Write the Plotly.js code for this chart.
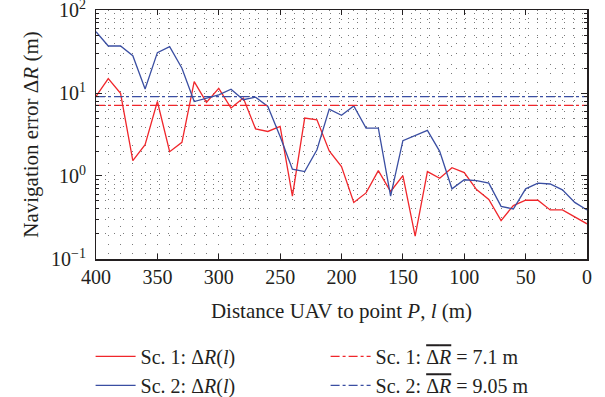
<!DOCTYPE html>
<html>
<head>
<meta charset="utf-8">
<script src="https://cdn.plot.ly/plotly-3.0.1.min.js"></script>
<style>html,body{margin:0;padding:0;background:#fff;}#chart{width:605px;height:397px;}</style>
</head>
<body>
<div id="chart"></div>
<script>
// Distance UAV to point P, l (m)
const distance = [400, 390, 380, 370, 360, 350, 340, 330, 320, 310, 300, 290, 280, 270, 260, 250, 240, 230, 220, 210, 200,
                  190, 180, 170, 160, 150, 140, 130, 120, 110, 100, 90, 80, 70, 60, 50, 40, 30, 20, 10, 0];
// Scenario 1 navigation error (m)
const sc1Error = [9.1, 14.9, 9.9, 1.53, 2.38, 7.9, 1.96, 2.54, 13.7, 7.7, 11.4, 6.6, 8.7, 3.7, 3.44, 3.95, 0.57, 4.99, 4.76, 2.0, 1.3,
                  0.48, 0.625, 1.16, 0.65, 1.01, 0.188, 1.13, 0.94, 1.26, 1.1, 0.685, 0.52, 0.29, 0.44, 0.51, 0.51, 0.39, 0.39, 0.32, 0.265];
// Scenario 2 navigation error (m)
const sc2Error = [54.8, 36.9, 36.9, 28.2, 11.2, 30.7, 36.2, 19.9, 7.9, 8.7, 9.5, 11.1, 8.3, 8.9, 6.9, 3.0, 1.21, 1.13, 2.07, 6.4, 5.4,
                  7.0, 3.78, 3.78, 0.57, 2.66, 3.05, 3.54, 1.98, 0.70, 0.9, 0.88, 0.82, 0.43, 0.40, 0.70, 0.82, 0.80, 0.68, 0.48, 0.39];
// Mean errors (m)
const sc1Mean = 7.1;
const sc2Mean = 9.05;
const meanSpan = [400, 0];
const xTicks = [400, 350, 300, 250, 200, 150, 100, 50, 0];
const xMinorTicks = [390, 380, 370, 360, 340, 330, 320, 310, 290, 280, 270, 260, 240, 230, 220, 210, 190, 180, 170, 160,
                     140, 130, 120, 110, 90, 80, 70, 60, 40, 30, 20, 10];
const yTicks = [0.1, 1, 10, 100];
const yTickText = ['10<sup>−1</sup>', '10<sup>0</sup>', '10<sup>1</sup>', '10<sup>2</sup>'];
const yMinorTicks = [0.2, 0.3, 0.4, 0.5, 0.6, 0.7, 0.8, 0.9, 2, 3, 4, 5, 6, 7, 8, 9, 20, 30, 40, 50, 60, 70, 80, 90];

const RED = '#f0262b';
const BLUE = '#3a4ea2';
const INK = '#231f20';
const GRID = '#7a7a7a';
const DASH = '1px,8px';
const FONT = 'Liberation Serif, Times New Roman, serif';

const traces = [
  {x: distance, y: sc1Error, mode: 'lines', line: {color: RED, width: 1.3},
   name: 'Sc. 1: Δ<i>R</i>(<i>l</i>)'},
  {x: meanSpan, y: [sc1Mean, sc1Mean], xaxis: 'x2', yaxis: 'y2', mode: 'lines',
   line: {color: RED, width: 1.3, dash: 'dashdot'},
   name: 'Sc. 1: <span style="text-decoration:overline">Δ<i>R</i></span> = ' + sc1Mean + ' m'},
  {x: distance, y: sc2Error, mode: 'lines', line: {color: BLUE, width: 1.3},
   name: 'Sc. 2: Δ<i>R</i>(<i>l</i>)'},
  {x: meanSpan, y: [sc2Mean, sc2Mean], xaxis: 'x2', yaxis: 'y2', mode: 'lines',
   line: {color: BLUE, width: 1.3, dash: 'dashdot'},
   name: 'Sc. 2: <span style="text-decoration:overline">Δ<i>R</i></span> = ' + sc2Mean + ' m'}
];

const yRange = [-1.001, 2.001];

// y tick labels drawn as annotations placed on the log y axis
const yLabelAnnotations = yTicks.map((v, i) => ({
  xref: 'paper', yref: 'y', x: -0.0163, y: Math.log10(v), xanchor: 'right', yanchor: 'middle',
  yshift: 1, text: yTickText[i], showarrow: false, font: {size: 20, color: INK, family: FONT}
}));

const layout = {
  width: 605, height: 397,
  margin: {l: 96, r: 18, t: 10, b: 138, autoexpand: false},
  paper_bgcolor: '#fff', plot_bgcolor: '#fff',
  font: {family: FONT, size: 20, color: INK},
  showlegend: true,
  legend: {orientation: 'h', x: -0.011, xanchor: 'left', y: -0.313, yanchor: 'top',
           entrywidth: 180, entrywidthmode: 'pixels', itemwidth: 40, font: {size: 20}, tracegroupgap: 0,
           bgcolor: 'rgba(0,0,0,0)'},
  annotations: yLabelAnnotations,
  xaxis: {
    range: [400, 0], tickvals: xTicks, ticks: 'inside', ticklen: 5, tickcolor: INK,
    showline: true, linecolor: INK, linewidth: 1.5, mirror: 'ticks', zeroline: false,
    showgrid: true, gridcolor: GRID, gridwidth: 1, griddash: DASH,
    ticklabelstandoff: -1, ticklabeloverflow: 'allow',
    title: {text: 'Distance UAV to point <i>P</i>, <i>l</i> (m)', font: {size: 21}, standoff: 17},
    tickfont: {size: 20}
  },
  xaxis2: {
    overlaying: 'x', anchor: 'y', range: [400, 0], tickvals: xMinorTicks, showticklabels: false,
    ticks: '', showline: false, zeroline: false,
    showgrid: true, gridcolor: GRID, gridwidth: 1, griddash: DASH
  },
  yaxis: {
    type: 'log', range: yRange, tickvals: yTicks, showticklabels: false,
    ticks: 'inside', ticklen: 6, tickcolor: INK,
    showline: true, linecolor: INK, linewidth: 1.5, mirror: 'ticks', zeroline: false,
    showgrid: true, gridcolor: GRID, gridwidth: 1, griddash: DASH,
    title: {text: 'Navigation error Δ<i>R</i> (m)', font: {size: 21}, standoff: 50}
  },
  yaxis2: {
    overlaying: 'y', anchor: 'x', side: 'left', type: 'log', range: yRange, tickvals: yMinorTicks,
    showticklabels: false, ticks: 'inside', ticklen: 3, tickcolor: INK, mirror: 'ticks',
    showline: false, zeroline: false,
    showgrid: true, gridcolor: GRID, gridwidth: 1, griddash: DASH
  }
};

Plotly.newPlot('chart', traces, layout, {displayModeBar: false, staticPlot: true});
</script>
</body>
</html>
